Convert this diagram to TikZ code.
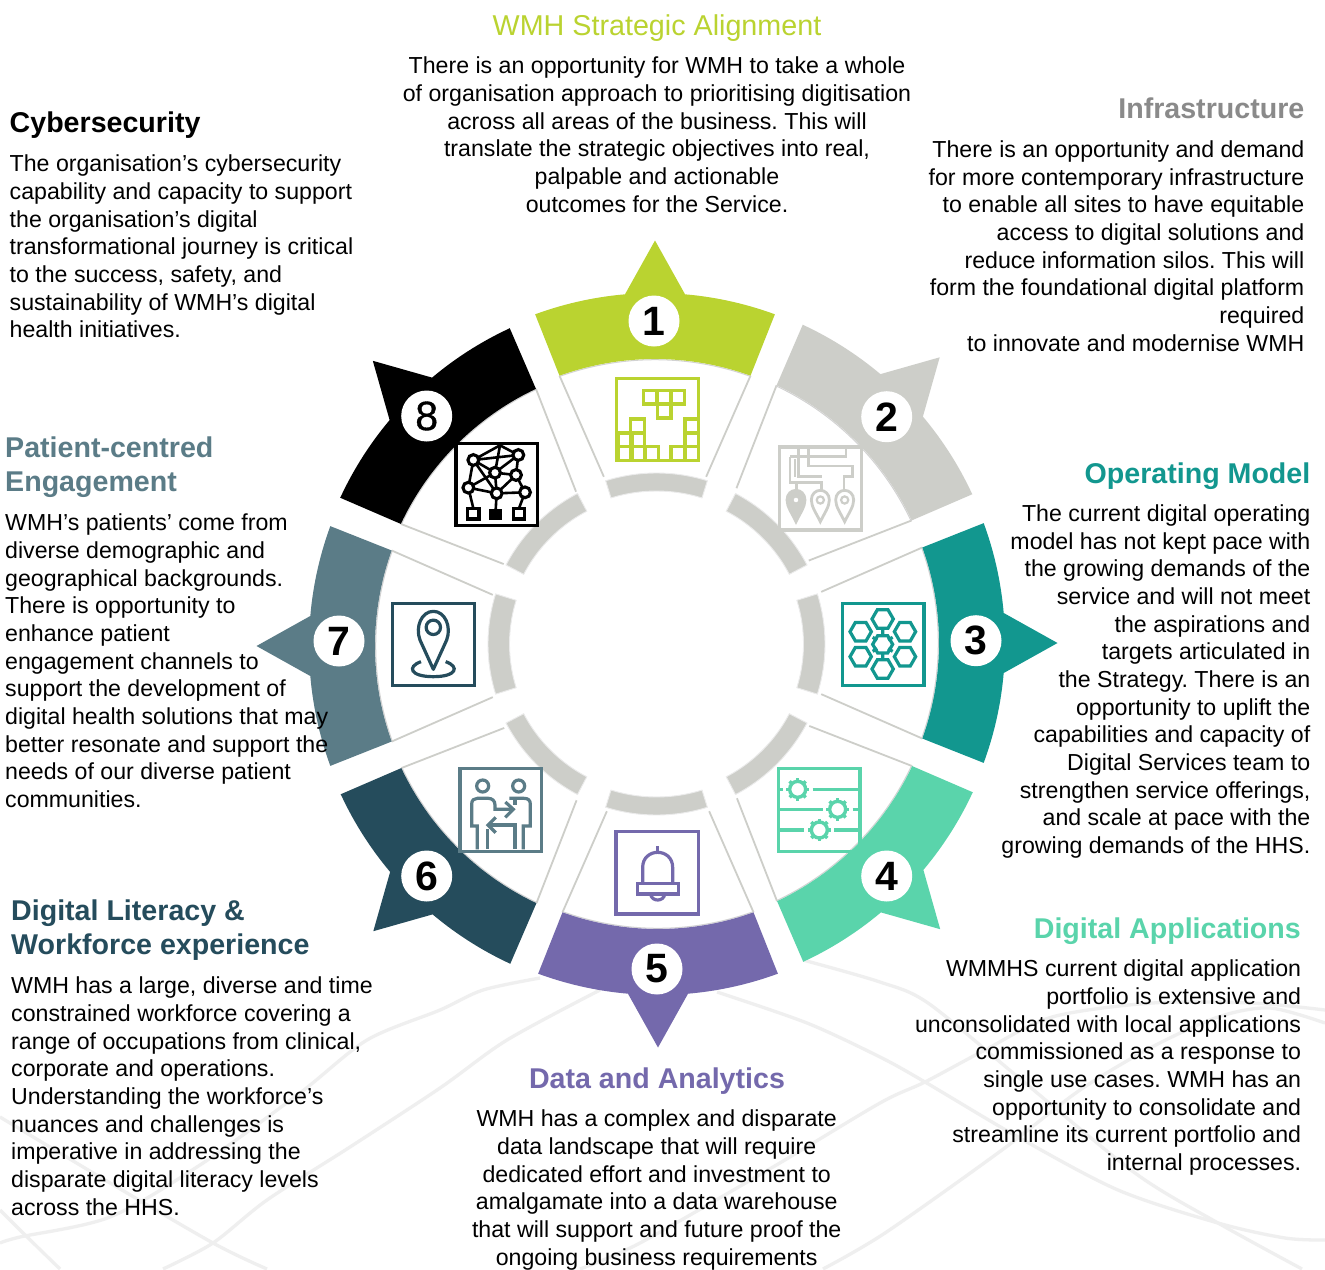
\documentclass[tikz,border=0pt]{standalone}
\usepackage{fontspec}
\setmainfont{Liberation Sans}
\newfontface\medfont[FakeBold=0.9]{Liberation Sans}
\definecolor{cLime}{HTML}{BAD330}
\definecolor{cGrey}{HTML}{CDCEC9}
\definecolor{cHead}{HTML}{8A8A8A}
\definecolor{cTeal}{HTML}{12978F}
\definecolor{cMint}{HTML}{5AD4AB}
\definecolor{cPurple}{HTML}{7469AC}
\definecolor{cNavy}{HTML}{254C5C}
\definecolor{cSlate}{HTML}{5B7C87}
\definecolor{cWave}{HTML}{EFEFEF}
\tikzset{
  bodytext/.style={inner sep=0pt,font=\fontsize{23.15}{27.65}\selectfont\frenchspacing,text=black},
  headtext/.style={inner sep=0pt,font=\fontsize{28.6}{34}\selectfont\bfseries},
  numdisc/.style={circle,fill=white,inner sep=0pt,minimum size=51pt,font=\fontsize{41}{41}\selectfont\bfseries,text=black},
  wave/.style={cWave,line width=3.3pt},
  wedgeline/.style={cGrey,line width=1.8pt},
  iconline/.style={line width=3.2pt,line join=miter},
  zoomed/.style={x=.33333pt,y=-.33333pt}
}
% angle, cx, cy, colour
\newcommand{\segm}[4]{%
  \pgfmathsetmacro{\aA}{#1-20.15}\pgfmathsetmacro{\aB}{#1-4.95}%
  \pgfmathsetmacro{\aC}{#1+4.95}\pgfmathsetmacro{\aD}{#1+20.15}%
  \pgfmathsetmacro{\iA}{#1+19.8}\pgfmathsetmacro{\iB}{#1-19.8}%
  \pgfmathsetmacro{\lA}{#1+17.3}\pgfmathsetmacro{\lB}{#1-17.3}%
  \begin{scope}[shift={(#2,#3)}]
    \draw[wedgeline] (\iA:282) -- (\lA:172);
    \draw[wedgeline] (\iB:282) -- (\lB:172);
    \draw[gray!35,line width=1pt] plot[domain=\iA:\iB,samples=40] (\x:281.3);
    \fill[#4] plot[domain=\aA:\aB,samples=16] (\x:348) -- (#1:400.5)
      -- plot[domain=\aC:\aD,samples=16] (\x:348)
      -- plot[domain=\iA:\iB,samples=40] (\x:282) -- cycle;
  \end{scope}}
% angle, r outer, r inner
\newcommand{\ringseg}[3]{%
  \pgfmathsetmacro{\rA}{#1-17.3}\pgfmathsetmacro{\rB}{#1+17.3}%
  \begin{scope}[shift={(656.5,644)}]
    \filldraw[fill=cGrey,draw=black!8,line width=.9pt]
      plot[domain=\rA:\rB,samples=24] (\x:#2)
      -- plot[domain=\rB:\rA,samples=24] (\x:#3) -- cycle;
  \end{scope}}
\newcommand{\hexa}[3]{\draw[iconline,cTeal] ([shift={(#1,#2)}]0:#3)
  -- ([shift={(#1,#2)}]60:#3) -- ([shift={(#1,#2)}]120:#3) -- ([shift={(#1,#2)}]180:#3)
  -- ([shift={(#1,#2)}]240:#3) -- ([shift={(#1,#2)}]300:#3) -- cycle;}
\newcommand{\gearicon}[2]{%
  \draw[cMint,line width=3.4pt] (#1,#2) circle[radius=8pt];
  \foreach \a in {0,45,...,315}{\draw[cMint,line width=3.4pt] ([shift={(#1,#2)}]\a:23) -- ([shift={(#1,#2)}]\a:34);}}
\newcommand{\pinicon}[1]{%
  \begin{scope}[shift={(#1,0)}]
  \path[draw=cGrey,line width=2.8pt,fill=\pinfill] (0,605) .. controls (-12,580) and (-27,560) .. (-27,540)
     .. controls (-27,522) and (-14,511) .. (0,511) .. controls (14,511) and (27,522) .. (27,540)
     .. controls (27,560) and (12,580) .. (0,605) -- cycle;
  \draw[cGrey,line width=2.2pt,fill=white] (0,540) circle[radius=3.6pt];
  \end{scope}}
\begin{document}
\begin{tikzpicture}[x=1pt,y=-1pt]
\useasboundingbox (0,0) rectangle (1325,1269);
\fill[white] (0,0) rectangle (1325,1269);
% background waves
\draw[wave] plot[smooth] coordinates {(0,1243) (20,1237) (110,1217) (200,1165) (300,1093) (367,1040) (440,1010) (483,990) (540,978)};
\draw[wave] plot[smooth] coordinates {(163,1269) (213,1243) (267,1200) (350,1147) (440,1088) (507,1040) (600,990)};
\draw[wave] plot[smooth] coordinates {(0,1210) (20,1230) (60,1269)};
\draw[wave] plot[smooth] coordinates {(0,1117) (100,1177) (213,1243) (267,1269)};
\draw[wave] plot[smooth] coordinates {(717,992) (807,1023) (880,1057) (925,1082) (1018,1137) (1118,1190) (1218,1223) (1285,1238) (1325,1240)};
\draw[wave] plot[smooth] coordinates {(803,960) (880,982) (928,1003) (1018,1077) (1135,1173) (1218,1223) (1302,1269)};
\draw[wave] plot[smooth] coordinates {(580,1269) (640,1243) (773,1167) (880,1103) (925,1082) (985,1050) (1052,1017) (1152,1003) (1252,1003) (1325,1010)};
\draw[wave] plot[smooth] coordinates {(823,1269) (885,1233) (1002,1150) (1080,1090) (1152,1047) (1218,1017) (1270,1008) (1325,1023)};
% inner ring
\ringseg{-90}{171}{153}
\ringseg{-45}{170}{150}
\ringseg{0}{168.5}{147}
\ringseg{45}{170}{150}
\ringseg{90}{171}{153}
\ringseg{135}{170}{150}
\ringseg{180}{168.5}{147}
\ringseg{225}{170}{150}
% outer segments
\segm{-90}{655}{641}{cLime}
\segm{-45}{656.5}{640.5}{cGrey}
\segm{0}{657}{643}{cTeal}
\segm{45}{657}{646}{cMint}
\segm{90}{658}{647}{cPurple}
\segm{135}{656.5}{648}{cNavy}
\segm{180}{657}{646}{cSlate}
\segm{225}{656}{644}{black}
% icon 1
\begin{scope}[shift={(520,230)},zoomed]
  \draw[iconline,cLime] (290,445) rectangle (535,692);
  \foreach \x/\y in {370/481,412/481,453/481,412/523,
     332/567,295/609,332/609,295/650,332/650,375/650,453/650,495/567,495/609,495/650}{
    \draw[iconline,cLime] (\x,\y) rectangle ++(41,41);}
\end{scope}
% icon 2
\begin{scope}[shift={(740,320)},zoomed]
  \draw[iconline,cGrey] (118,381) rectangle (365,630);
  \draw[cGrey,line width=2.6pt] (150,410) -- (150,487) -- (170,487) -- (170,512);
  \draw[cGrey,line width=2.6pt] (150,410) -- (205,410);
  \draw[cGrey,line width=2.6pt] (165,418) -- (165,470);
  \draw[cGrey,line width=2.6pt] (175,381) -- (175,470) -- (245,470);
  \draw[cGrey,line width=2.6pt] (150,487) -- (245,487) -- (245,512);
  \draw[cGrey,line width=2.6pt] (205,381) -- (205,438) -- (338,438) -- (338,470) -- (312,470) -- (312,512);
  \draw[cGrey,line width=2.6pt] (205,410) -- (318,410) -- (318,381);
  \def\pinfill{cGrey}\pinicon{168}
  \def\pinfill{white}\pinicon{241}
  \def\pinfill{white}\pinicon{314}
\end{scope}
% icon 3
\begin{scope}[shift={(800,520)},zoomed]
  \draw[iconline,cTeal] (127,250) rectangle (372,497);
  \hexa{248}{297}{32}\hexa{315}{335}{32}\hexa{315}{410}{32}
  \hexa{248}{447}{32}\hexa{182}{410}{32}\hexa{182}{335}{32}\hexa{248}{373}{30}
  \draw[iconline,cTeal] (248,325)--(248,347) (248,399)--(248,420)
     (218,352)--(232,360) (278,352)--(264,360) (218,394)--(232,386) (278,394)--(264,386);
\end{scope}
% icon 4
\begin{scope}[shift={(740,740)},zoomed]
  \draw[iconline,cMint] (115,86) rectangle (360,335);
  \draw[iconline,cMint] (115,148)--(130,148) (218,148)--(360,148)
    (115,208)--(248,208) (338,208)--(360,208) (115,270)--(193,270) (283,270)--(360,270);
  \gearicon{173}{148}\gearicon{293}{208}\gearicon{238}{270}
\end{scope}
% icon 5
\begin{scope}[shift={(530,790)},zoomed]
  \draw[iconline,cPurple] (258,125) rectangle (505,372);
  \draw[iconline,cPurple] (338,278) -- (338,232) .. controls (338,203) and (360,187) .. (383,187)
    .. controls (406,187) and (428,203) .. (428,232) -- (428,278);
  \draw[iconline,cPurple] (383,168) -- (383,187);
  \draw[iconline,cPurple] (322,280) rectangle (445,312);
  \draw[iconline,cPurple] (362,312) .. controls (364,336) and (402,336) .. (404,312);
\end{scope}
% icon 6
\begin{scope}[shift={(330,740)},zoomed]
  \draw[iconline,cSlate] (390,86) rectangle (635,335);
  \draw[iconline,cSlate] (458,138) circle[radius=6pt] (566,138) circle[radius=6pt];
  \draw[iconline,cSlate] (442,328) -- (442,258) -- (425,258) -- (425,192) .. controls (425,180) and (433,175) .. (442,175)
     -- (475,175) .. controls (487,175) and (495,183) .. (495,195) -- (495,208) -- (548,208);
  \draw[iconline,cSlate] (526,186) -- (550,208) -- (526,232);
  \draw[iconline,cSlate] (497,232) -- (474,255) -- (497,278);
  \draw[iconline,cSlate] (476,255) -- (555,255) -- (555,328);
  \draw[iconline,cSlate] (472,268) -- (472,328);
  \draw[iconline,cSlate] (580,328) -- (580,258) -- (601,258) -- (601,192) .. controls (601,180) and (593,175) .. (582,175) -- (538,175);
  \draw[iconline,cSlate] (555,175) -- (555,195);
\end{scope}
% icon 7
\begin{scope}[shift={(250,520)},zoomed]
  \draw[iconline,cNavy] (428,250) rectangle (673,497);
  \draw[iconline,cNavy,line join=round] (550,448) -- (510,360) .. controls (495,320) and (515,274) .. (550,274)
     .. controls (585,274) and (605,320) .. (590,360) -- cycle;
  \draw[iconline,cNavy] (550,322) circle[radius=7.2pt];
  \draw[iconline,cNavy] (513,425) .. controls (470,440) and (480,470) .. (550,470)
     .. controls (620,470) and (630,440) .. (587,425);
\end{scope}
% icon 8
\begin{scope}[shift={(330,320)},zoomed]
  \draw[iconline,black] (378,370) rectangle (623,617);
  \draw[black,line width=2.6pt] (430,420)--(510,376)--(565,405)--(430,420)--(495,458)--(510,376)
     (495,458)--(565,405)--(558,465)--(495,458)--(415,503)--(430,420)
     (415,503)--(500,520)--(495,458) (558,465)--(500,520)--(585,517)--(558,465)
     (430,420)--(500,520) (415,503)--(430,565) (585,517)--(567,565) (500,520)--(497,570);
  \foreach \x/\y in {430/420,565/405,495/458,558/465,415/503,500/520,585/517}{
    \draw[black,line width=3.1pt,fill=white] (\x,\y) circle[radius=5.4pt];}
  \draw[iconline,black] (413,565) rectangle (447,597) (550,565) rectangle (583,597);
  \fill[black] (478,567) rectangle (515,601);
\end{scope}
% numbers
\node[numdisc] (n1) at (654,321) {1};
\node[numdisc] (n2) at (886.7,416.7) {2};
\node[numdisc] (n3) at (976,640.7) {3};
\node[numdisc] (n4) at (886.7,876) {4};
\node[numdisc] (n5) at (657,969) {5};
\node[numdisc] (n6) at (426.7,876) {6};
\node[numdisc] (n7) at (339,641) {7};
\node[numdisc,font=\fontsize{41}{41}\selectfont\medfont] (n8) at (426.7,416) {8};
% texts
\node[inner sep=0pt,font=\fontsize{28.7}{34}\selectfont,text=cLime,anchor=north] (t1) at (657,15) {WMH Strategic Alignment};
\node[bodytext,align=center,anchor=north] (b1) at (657,57) {There is an opportunity for WMH to take a whole\\of organisation approach to prioritising digitisation\\across all areas of the business. This will\\translate the strategic objectives into real,\\palpable and actionable\\outcomes for the Service.};
\node[headtext,text=cHead,anchor=north east] (t2) at (1304.5,98) {Infrastructure};
\node[bodytext,align=right,anchor=north east] (b2) at (1304.5,140.7) {There is an opportunity and demand\\for more contemporary infrastructure\\to enable all sites to have equitable\\access to digital solutions and\\reduce information silos. This will\\form the foundational digital platform\\required\\to innovate and modernise WMH};
\node[headtext,text=cTeal,anchor=north east] (t3) at (1310.5,463) {Operating Model};
\node[bodytext,align=right,anchor=north east] (b3) at (1310.5,504.7) {The current digital operating\\model has not kept pace with\\the growing demands of the\\service and will not meet\\the aspirations and\\targets articulated in\\the Strategy. There is an\\opportunity to uplift the\\capabilities and capacity of\\Digital Services team to\\strengthen service offerings,\\and scale at pace with the\\growing demands of the HHS.};
\node[headtext,text=cMint,anchor=north east] (t4) at (1301,918) {Digital Applications};
\node[bodytext,align=right,anchor=north east] (b4) at (1301.3,960) {WMMHS current digital application\\portfolio is extensive and\\unconsolidated with local applications\\commissioned as a response to\\single use cases. WMH has an\\opportunity to consolidate and\\streamline its current portfolio and\\internal processes.};
\node[headtext,text=cPurple,anchor=north] (t5) at (657,1068) {Data and Analytics};
\node[bodytext,align=center,anchor=north] (b5) at (656.7,1110) {WMH has a complex and disparate\\data landscape that will require\\dedicated effort and investment to\\amalgamate into a data warehouse\\that will support and future proof the\\ongoing business requirements};
\node[headtext,text=cNavy,align=left,anchor=north west] (t6) at (11,900) {Digital Literacy \&\\Workforce experience};
\node[bodytext,align=left,anchor=north west] (b6) at (11,977) {WMH has a large, diverse and time\\constrained workforce covering a\\range of occupations from clinical,\\corporate and operations.\\Understanding the workforce’s\\nuances and challenges is\\imperative in addressing the\\disparate digital literacy levels\\across the HHS.};
\node[headtext,text=cSlate,align=left,anchor=north west] (t7) at (5,437) {Patient-centred\\Engagement};
\node[bodytext,align=left,anchor=north west] (b7) at (5,514) {WMH’s patients’ come from\\diverse demographic and\\geographical backgrounds.\\There is opportunity to\\enhance patient\\engagement channels to\\support the development of\\digital health solutions that may\\better resonate and support the\\needs of our diverse patient\\communities.};
\node[headtext,text=black,anchor=north west] (t8) at (9.5,112) {Cybersecurity};
\node[bodytext,align=left,anchor=north west] (b8) at (9.5,155) {The organisation’s cybersecurity\\capability and capacity to support\\the organisation’s digital\\transformational journey is critical\\to the success, safety, and\\sustainability of WMH’s digital\\health initiatives.};
\end{tikzpicture}
\end{document}
